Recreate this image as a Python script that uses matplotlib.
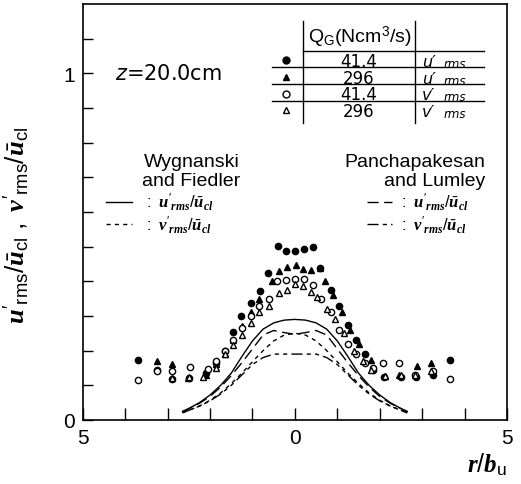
import numpy as np
import matplotlib
matplotlib.use("Agg")
import matplotlib.pyplot as plt

plt.rcParams['font.family'] = ['Liberation Sans', 'DejaVu Sans']
plt.rcParams['mathtext.fontset'] = 'custom'
plt.rcParams['mathtext.rm'] = 'Liberation Sans'
plt.rcParams['mathtext.it'] = 'Liberation Serif:italic:bold'
plt.rcParams['mathtext.bf'] = 'Liberation Serif:bold'
plt.rcParams['mathtext.sf'] = 'DejaVu Sans:italic'

# measured data, z = 20.0 cm
# u'rms, Q_G = 41.4 (filled circles)
x_u41 = [-3.7, -3.25, -2.9, -2.5, -2.1, -1.85, -1.65, -1.45, -1.26, -1.04, -0.83, -0.63, -0.39, -0.2, 0.0,
         0.21, 0.42, 0.6, 0.84, 1.05, 1.25, 1.45, 1.65, 1.85, 2.1, 2.5, 2.85, 3.25, 3.66]
y_u41 = [0.172, 0.145, 0.118, 0.12, 0.135, 0.165, 0.2, 0.255, 0.3, 0.336, 0.372, 0.423, 0.503, 0.488, 0.486,
         0.494, 0.498, 0.438, 0.375, 0.33, 0.275, 0.23, 0.19, 0.145, 0.125, 0.124, 0.124, 0.13, 0.172]
# u'rms, Q_G = 296 (filled triangles)
x_u296 = [-3.26, -2.9, -2.52, -2.1, -1.85, -1.65, -1.45, -1.25, -1.04, -0.84, -0.55, -0.37, -0.18, 0.02,
          0.2, 0.38, 0.59, 0.72, 0.9, 1.1, 1.3, 1.5, 1.8, 2.12, 2.45, 2.87, 3.22]
y_u296 = [0.17, 0.16, 0.121, 0.13, 0.16, 0.19, 0.23, 0.27, 0.31, 0.35, 0.40, 0.43, 0.44, 0.447,
          0.436, 0.433, 0.438, 0.40, 0.36, 0.31, 0.26, 0.22, 0.172, 0.128, 0.13, 0.157, 0.165]
# v'rms, Q_G = 41.4 (open circles)
x_v41 = [-3.7, -3.25, -2.9, -2.48, -2.04, -1.85, -1.65, -1.45, -1.25, -1.04, -0.84, -0.61, -0.42, -0.21, 0.0,
         0.21, 0.42, 0.62, 0.84, 1.05, 1.25, 1.45, 1.65, 1.85, 2.07, 2.46, 2.83, 3.25, 3.66]
y_v41 = [0.116, 0.14, 0.14, 0.153, 0.148, 0.17, 0.2, 0.23, 0.265, 0.30, 0.33, 0.349, 0.40, 0.404, 0.407,
         0.407, 0.388, 0.35, 0.31, 0.26, 0.22, 0.19, 0.165, 0.15, 0.165, 0.165, 0.13, 0.14, 0.119]
# v'rms, Q_G = 296 (open triangles)
x_v296 = [-2.9, -2.5, -2.16, -1.85, -1.65, -1.45, -1.25, -1.04, -0.84, -0.6, -0.37, -0.18, 0.0,
          0.2, 0.39, 0.53, 0.75, 0.95, 1.15, 1.4, 1.6, 1.8, 2.12, 2.5, 2.83, 3.22]
y_v296 = [0.12, 0.125, 0.124, 0.15, 0.19, 0.215, 0.245, 0.28, 0.31, 0.33, 0.365, 0.375, 0.391,
          0.385, 0.37, 0.354, 0.32, 0.29, 0.25, 0.2, 0.17, 0.145, 0.128, 0.13, 0.13, 0.14]

# reference curves
x_ref = [-2.65, -2.5, -2.25, -2.0, -1.75, -1.5, -1.25, -1.0, -0.75, -0.5, -0.25, 0.0,
         0.25, 0.5, 0.75, 1.0, 1.25, 1.5, 1.75, 2.0, 2.25, 2.5, 2.65]
wf_u = [0.025, 0.033, 0.05, 0.072, 0.10, 0.135, 0.183, 0.228, 0.262, 0.28, 0.288, 0.29,
        0.288, 0.28, 0.262, 0.228, 0.183, 0.135, 0.10, 0.072, 0.05, 0.033, 0.025]
wf_v = [0.022, 0.028, 0.04, 0.057, 0.078, 0.105, 0.135, 0.168, 0.20, 0.228, 0.245, 0.25,
        0.245, 0.228, 0.20, 0.168, 0.135, 0.105, 0.078, 0.057, 0.04, 0.028, 0.022]
pl_u = [0.022, 0.033, 0.048, 0.068, 0.095, 0.128, 0.165, 0.205, 0.245, 0.258, 0.252, 0.247,
        0.252, 0.258, 0.245, 0.205, 0.165, 0.128, 0.095, 0.068, 0.048, 0.033, 0.022]
pl_v = [0.02, 0.028, 0.04, 0.055, 0.075, 0.10, 0.13, 0.16, 0.18, 0.19, 0.19, 0.19,
        0.19, 0.19, 0.18, 0.16, 0.13, 0.10, 0.075, 0.055, 0.04, 0.028, 0.02]

xticks = [-5, -4, -3, -2, -1, 0, 1, 2, 3, 4, 5]
xtick_labels = ['5', '', '', '', '', '0', '', '', '', '', '5']
yticks = [0, 0.1, 0.2, 0.3, 0.4, 0.5, 0.6, 0.7, 0.8, 0.9, 1.0, 1.1]
ytick_labels = ['0', '', '', '', '', '', '', '', '', '', '1', '']

table_q = ['41.4', '296', '41.4', '296']
table_var = ['u', 'u', 'v', 'v']

fig = plt.figure(figsize=(5.21, 4.85), dpi=100)
ax = fig.add_axes([0.159, 0.132, 0.814, 0.858])
ax.set_xlim(-5, 5)
ax.set_ylim(0, 1.2)

ms = 4.5
ax.plot(x_u41, y_u41, 'o', color='black', ms=ms)
ax.plot(x_u296, y_u296, '^', color='black', ms=ms)
ax.plot(x_v41, y_v41, 'o', mfc='white', mec='black', mew=1.0, ms=ms)
ax.plot(x_v296, y_v296, '^', mfc='white', mec='black', mew=1.0, ms=ms)

lw = 1.0
ax.plot(x_ref, wf_u, '-', color='black', lw=lw)
ax.plot(x_ref, wf_v, color='black', lw=lw, dashes=(3, 3))
ax.plot(x_ref, pl_u, color='black', lw=lw, dashes=(8, 4))
ax.plot(x_ref, pl_v, color='black', lw=lw, dashes=(8, 3, 3, 3, 3, 3))

ax.set_xticks(xticks, xtick_labels)
ax.set_yticks(yticks, ytick_labels)
ax.tick_params(direction='in', length=7, width=1, labelsize=15, pad=6)
ax.tick_params(axis='x', length=9)
for s in ax.spines.values():
    s.set_linewidth(1.2)

ax.set_xlabel(r'$\mathit{r}/\mathit{b}_{\rm u}$', fontsize=18, loc='right', labelpad=2)
ax.set_ylabel(r"$\mathit{u}'_{\rm rms}/\bar{\mathit{u}}_{\rm cl}\ ,\ \mathit{v}'_{\rm rms}/\bar{\mathit{u}}_{\rm cl}$",
              fontsize=19)
ax.yaxis.set_label_coords(-0.125, 0.47)

ax.text(-4.25, 1.0, r'$\mathsf{z}$=20.0cm', fontsize=15, va='center', family='DejaVu Sans')

# table
tk = dict(color='black', lw=1.0)
ax.plot([0.19, 0.19], [1.15, 0.855], **tk)
ax.plot([2.83, 2.83], [1.15, 0.855], **tk)
ax.plot([0.19, 4.45], [1.065, 1.065], **tk)
row_lines = [1.017, 0.969, 0.921]
for yl in row_lines:
    ax.plot([-0.55, 4.45], [yl, yl], **tk)
ax.text(0.3, 1.105, r'Q$_{\rm G}$(Ncm$^3$/s)', fontsize=14, va='center')
row_base = [1.021, 0.973, 0.925, 0.877]
mk = [dict(marker='o', color='black'), dict(marker='^', color='black'),
      dict(marker='o', mfc='white', mec='black'), dict(marker='^', mfc='white', mec='black')]
for q, v, yb, m in zip(table_q, table_var, row_base, mk):
    ax.plot(-0.2, yb + 0.016, ms=5, ls='none', **m)
    ax.text(1.5, yb, q, fontsize=12, ha='center', va='baseline', family='DejaVu Sans')
    ax.text(3.0, yb, v + '\u2032', fontsize=11.5, va='baseline', family='DejaVu Sans', style='italic')
    ax.text(3.5, yb - 0.003, 'rms', fontsize=8.5, va='baseline', family='DejaVu Sans', style='italic')

# legend blocks
ax.text(-1.3, 0.745, 'Wygnanski', fontsize=14, ha='right', va='center')
ax.text(-1.3, 0.69, 'and Fiedler', fontsize=14, ha='right', va='center')
ax.text(4.5, 0.745, 'Panchapakesan', fontsize=14, ha='right', va='center')
ax.text(4.5, 0.69, 'and Lumley', fontsize=14, ha='right', va='center')

leg_u = r"$:\ \mathit{u}'_{\mathit{rms}}/\bar{\mathit{u}}_{\mathit{cl}}$"
leg_v = r"$:\ \mathit{v}'_{\mathit{rms}}/\bar{\mathit{u}}_{\mathit{cl}}$"
ly1, ly2 = 0.630, 0.566
ax.plot([-4.45, -3.85], [ly1, ly1], '-', color='black', lw=lw)
ax.plot([-4.45, -3.85], [ly2, ly2], color='black', lw=lw, dashes=(3, 3))
ax.text(-3.55, ly1, leg_u, fontsize=12, va='center')
ax.text(-3.55, ly2, leg_v, fontsize=12, va='center')
ax.plot([1.7, 2.3], [ly1, ly1], color='black', lw=lw, dashes=(8, 4))
ax.plot([1.7, 2.3], [ly2, ly2], color='black', lw=lw, dashes=(8, 3, 3, 3, 3, 3))
ax.text(2.45, ly1, leg_u, fontsize=12, va='center')
ax.text(2.45, ly2, leg_v, fontsize=12, va='center')

fig.savefig('out.png', dpi=100)
